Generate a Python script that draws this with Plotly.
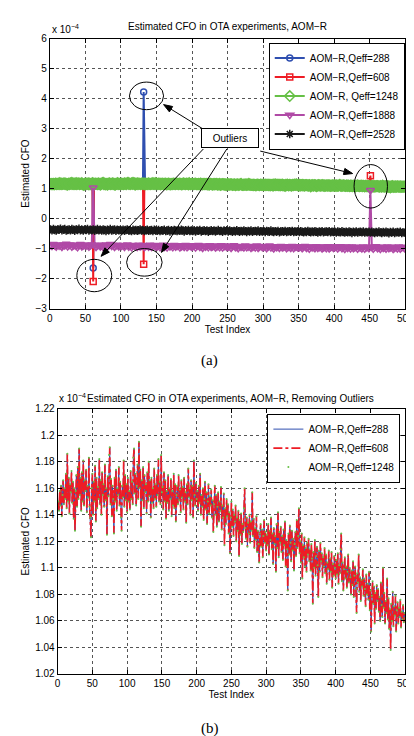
import math
import plotly.graph_objects as go

# test index axis
test_index = list(range(1, 501))
odd_index = list(range(1, 500, 2))

# estimated CFO (x 1e-4), Qeff = 288 / 608 / 1248 overlap after removing outliers
cfo_clean = [
    1.150, 1.143, 1.158, 1.147, 1.162, 1.139, 1.155, 1.166, 1.148, 1.160, 1.152, 1.171, 1.145, 1.186, 1.150, 1.168, 1.141, 1.163, 1.157, 1.173,
    1.149, 1.165, 1.137, 1.160, 1.128, 1.158, 1.170, 1.146, 1.176, 1.152, 1.190, 1.155, 1.168, 1.143, 1.172, 1.150, 1.181, 1.147, 1.166, 1.158,
    1.174, 1.142, 1.162, 1.153, 1.183, 1.146, 1.138, 1.123, 1.160, 1.171, 1.140, 1.165, 1.150, 1.177, 1.135, 1.168, 1.145, 1.161, 1.152, 1.182,
    1.148, 1.166, 1.140, 1.172, 1.155, 1.163, 1.146, 1.178, 1.151, 1.160, 1.125, 1.169, 1.154, 1.185, 1.191, 1.148, 1.167, 1.139, 1.162, 1.152,
    1.126, 1.168, 1.150, 1.174, 1.143, 1.160, 1.155, 1.176, 1.147, 1.165, 1.138, 1.128, 1.162, 1.153, 1.181, 1.146, 1.170, 1.151, 1.163, 1.142,
    1.168, 1.150, 1.158, 1.144, 1.173, 1.152, 1.165, 1.148, 1.183, 1.190, 1.156, 1.171, 1.147, 1.162, 1.178, 1.152, 1.195, 1.160, 1.174, 1.131,
    1.166, 1.151, 1.176, 1.145, 1.170, 1.157, 1.163, 1.141, 1.172, 1.150, 1.180, 1.154, 1.166, 1.138, 1.168, 1.149, 1.160, 1.145, 1.175, 1.152,
    1.163, 1.146, 1.170, 1.155, 1.182, 1.150, 1.165, 1.148, 1.185, 1.157, 1.161, 1.144, 1.172, 1.150, 1.166, 1.137, 1.158, 1.149, 1.170, 1.143,
    1.160, 1.152, 1.167, 1.139, 1.158, 1.147, 1.171, 1.145, 1.163, 1.135, 1.155, 1.162, 1.148, 1.170, 1.151, 1.159, 1.142, 1.166, 1.153, 1.161,
    1.144, 1.168, 1.150, 1.157, 1.134, 1.163, 1.148, 1.175, 1.153, 1.160, 1.140, 1.166, 1.151, 1.162, 1.138, 1.181, 1.155, 1.147, 1.164, 1.152,
    1.158, 1.143, 1.162, 1.149, 1.171, 1.140, 1.155, 1.146, 1.160, 1.136, 1.152, 1.165, 1.144, 1.157, 1.133, 1.150, 1.163, 1.141, 1.154, 1.147,
    1.159, 1.138, 1.151, 1.127, 1.148, 1.162, 1.140, 1.155, 1.131, 1.146, 1.157, 1.135, 1.150, 1.143, 1.161, 1.129, 1.147, 1.138, 1.156, 1.117,
    1.145, 1.133, 1.152, 1.139, 1.148, 1.126, 1.142, 1.111, 1.138, 1.150, 1.131, 1.144, 1.124, 1.140, 1.135, 1.147, 1.120, 1.138, 1.128, 1.143,
    1.109, 1.136, 1.125, 1.141, 1.118, 1.133, 1.127, 1.145, 1.160, 1.130, 1.122, 1.138, 1.116, 1.134, 1.126, 1.140, 1.119, 1.135, 1.128, 1.157,
    1.124, 1.137, 1.115, 1.130, 1.121, 1.139, 1.112, 1.128, 1.118, 1.104, 1.126, 1.133, 1.116, 1.129, 1.108, 1.124, 1.136, 1.119, 1.127, 1.113,
    1.125, 1.117, 1.133, 1.110, 1.128, 1.121, 1.138, 1.114, 1.126, 1.103, 1.130, 1.118, 1.124, 1.097, 1.133, 1.115, 1.142, 1.108, 1.127, 1.119,
    1.131, 1.112, 1.124, 1.106, 1.129, 1.117, 1.135, 1.101, 1.121, 1.114, 1.083, 1.126, 1.110, 1.132, 1.119, 1.105, 1.128, 1.113, 1.122, 1.098,
    1.118, 1.127, 1.109, 1.136, 1.115, 1.124, 1.145, 1.111, 1.120, 1.104, 1.126, 1.092, 1.117, 1.108, 1.123, 1.101, 1.115, 1.097, 1.119, 1.110,
    1.122, 1.105, 1.114, 1.098, 1.118, 1.107, 1.073, 1.112, 1.100, 1.121, 1.094, 1.109, 1.116, 1.102, 1.078, 1.113, 1.097, 1.119, 1.105, 1.111,
    1.093, 1.108, 1.101, 1.115, 1.096, 1.110, 1.088, 1.104, 1.099, 1.113, 1.091, 1.107, 1.097, 1.112, 1.085, 1.103, 1.094, 1.109, 1.100, 1.092,
    1.106, 1.095, 1.111, 1.088, 1.102, 1.096, 1.114, 1.126, 1.090, 1.104, 1.083, 1.099, 1.108, 1.092, 1.101, 1.085, 1.097, 1.110, 1.089, 1.100,
    1.093, 1.080, 1.098, 1.087, 1.105, 1.078, 1.094, 1.101, 1.084, 1.066, 1.096, 1.089, 1.110, 1.082, 1.093, 1.075, 1.091, 1.086, 1.099, 1.079,
    1.092, 1.084, 1.071, 1.095, 1.080, 1.088, 1.076, 1.097, 1.068, 1.083, 1.052, 1.079, 1.090, 1.073, 1.086, 1.058, 1.081, 1.069, 1.087, 1.075,
    1.084, 1.067, 1.078, 1.060, 1.089, 1.072, 1.063, 1.100, 1.070, 1.081, 1.058, 1.075, 1.066, 1.092, 1.061, 1.077, 1.054, 1.069, 1.038, 1.073,
    1.060, 1.082, 1.056, 1.071, 1.064, 1.079, 1.052, 1.068, 1.074, 1.058, 1.070, 1.063, 1.076, 1.055, 1.067, 1.061, 1.072, 1.059, 1.066, 1.062,
]

# Qeff = 2528 (black band), every second test
cfo_2528 = [
    -0.36, -0.39, -0.35, -0.38, -0.40, -0.36, -0.37, -0.34, -0.39, -0.37, -0.35, -0.40, -0.38, -0.36, -0.39, -0.35, -0.37, -0.41, -0.36, -0.38, -0.34, -0.39, -0.37, -0.40, -0.36,
    -0.38, -0.35, -0.40, -0.37, -0.39, -0.36, -0.41, -0.38, -0.35, -0.39, -0.37, -0.40, -0.36, -0.38, -0.42, -0.37, -0.39, -0.35, -0.40, -0.38, -0.36, -0.41, -0.37, -0.39, -0.38,
    -0.40, -0.37, -0.41, -0.38, -0.36, -0.40, -0.39, -0.42, -0.37, -0.40, -0.38, -0.41, -0.39, -0.36, -0.40, -0.38, -0.42, -0.39, -0.37, -0.41, -0.39, -0.38, -0.42, -0.37, -0.40,
    -0.41, -0.38, -0.42, -0.39, -0.40, -0.37, -0.42, -0.40, -0.38, -0.43, -0.39, -0.41, -0.38, -0.40, -0.42, -0.39, -0.41, -0.37, -0.40, -0.43, -0.39, -0.41, -0.38, -0.42, -0.40,
    -0.42, -0.39, -0.43, -0.40, -0.41, -0.38, -0.43, -0.41, -0.39, -0.42, -0.40, -0.44, -0.41, -0.39, -0.42, -0.40, -0.43, -0.41, -0.38, -0.42, -0.41, -0.44, -0.40, -0.42, -0.39,
    -0.43, -0.40, -0.42, -0.44, -0.41, -0.43, -0.39, -0.42, -0.44, -0.41, -0.43, -0.40, -0.42, -0.45, -0.41, -0.43, -0.40, -0.44, -0.42, -0.41, -0.43, -0.40, -0.44, -0.42, -0.43,
    -0.42, -0.45, -0.41, -0.43, -0.44, -0.40, -0.43, -0.45, -0.42, -0.44, -0.41, -0.46, -0.43, -0.42, -0.44, -0.41, -0.45, -0.43, -0.42, -0.44, -0.41, -0.45, -0.43, -0.44, -0.42,
    -0.45, -0.42, -0.44, -0.46, -0.43, -0.45, -0.41, -0.44, -0.46, -0.43, -0.45, -0.42, -0.44, -0.47, -0.43, -0.45, -0.42, -0.46, -0.44, -0.43, -0.45, -0.42, -0.46, -0.44, -0.45,
    -0.44, -0.47, -0.43, -0.45, -0.46, -0.42, -0.45, -0.47, -0.44, -0.46, -0.43, -0.45, -0.48, -0.44, -0.46, -0.43, -0.47, -0.45, -0.44, -0.46, -0.43, -0.47, -0.45, -0.46, -0.44,
    -0.47, -0.44, -0.46, -0.48, -0.45, -0.47, -0.43, -0.46, -0.48, -0.45, -0.47, -0.44, -0.46, -0.49, -0.45, -0.47, -0.44, -0.48, -0.46, -0.45, -0.47, -0.44, -0.48, -0.46, -0.47,
]

# Qeff = 1888 (magenta band), every second test
cfo_1888 = [
    -0.88, -0.92, -0.86, -0.90, -0.94, -0.87, -0.91, -0.89, -0.95, -0.88, -0.90, -0.85, -0.93, -0.89, -0.87, -0.94, -0.90, -0.88, -0.92, -0.96, -0.89, -0.86, -0.93, -0.90, -0.88,
    -0.91, -0.88, -0.94, -0.90, -0.87, -0.89, -0.89, -0.95, -0.90, -0.88, -0.93, -0.89, -0.96, -0.91, -0.87, -0.94, -0.90, -0.86, -0.92, -0.89, -0.95, -0.91, -0.88, -0.93, -0.90,
    -0.92, -0.89, -0.95, -0.90, -0.87, -0.94, -0.91, -0.96, -0.89, -0.92, -0.90, -0.95, -0.88, -0.93, -0.91, -0.89, -0.96, -0.92, -0.90, -0.94, -0.88, -0.95, -0.91, -0.89, -0.93,
    -0.93, -0.90, -0.96, -0.91, -0.88, -0.95, -0.92, -0.97, -0.90, -0.93, -0.91, -0.96, -0.89, -0.94, -0.92, -0.90, -0.97, -0.93, -0.91, -0.95, -0.89, -0.96, -0.92, -0.90, -0.94,
    -0.93, -0.91, -0.97, -0.92, -0.89, -0.95, -0.93, -0.98, -0.91, -0.94, -0.92, -0.96, -0.90, -0.95, -0.93, -0.91, -0.97, -0.94, -0.92, -0.96, -0.90, -0.97, -0.93, -0.91, -0.95,
    -0.94, -0.92, -0.98, -0.93, -0.90, -0.96, -0.94, -0.99, -0.92, -0.95, -0.93, -0.97, -0.91, -0.96, -0.94, -0.92, -0.98, -0.95, -0.93, -0.97, -0.91, -0.98, -0.94, -0.92, -0.96,
    -0.95, -0.93, -0.99, -0.94, -0.91, -0.97, -0.95, -1.00, -0.93, -0.96, -0.94, -0.98, -0.92, -0.97, -0.95, -0.93, -0.99, -0.96, -0.94, -0.98, -0.92, -0.99, -0.95, -0.93, -0.97,
    -0.96, -0.93, -0.99, -0.95, -0.92, -0.98, -0.95, -1.01, -0.94, -0.97, -0.95, -0.99, -0.93, -0.98, -0.96, -0.94, -1.00, -0.97, -0.95, -0.99, -0.93, -1.00, -0.96, -0.94, -0.98,
    -0.96, -0.94, -1.00, -0.95, -0.93, -0.99, -0.96, -1.02, -0.94, -0.98, -0.95, -1.00, -0.94, -0.99, -0.97, -0.95, -1.01, -0.97, -0.96, -1.00, -0.94, -1.01, -0.97, -0.95, -0.99,
    -0.97, -0.95, -1.01, -0.96, -0.93, -0.99, -0.97, -1.02, -0.95, -0.98, -0.96, -1.01, -0.94, -0.99, -0.97, -0.95, -1.02, -0.98, -0.96, -1.00, -0.94, -1.01, -0.97, -0.95, -0.99,
]

# outliers seen in panel (a)
outlier_idx_288 = [61, 132]
outlier_val_288 = [-1.65, 4.22]
outlier_idx_608 = [61, 132, 451]
outlier_val_608 = [-2.10, -1.52, 1.43]
outlier_idx_1888 = [61, 451]
outlier_val_1888 = [1.03, 0.94]


def with_outliers(index, values, idx, vals):
    out = list(values)
    for i, v in zip(idx, vals):
        out[index.index(i)] = v
    return out


cfo_288 = with_outliers(test_index, cfo_clean, outlier_idx_288, outlier_val_288)
cfo_608 = with_outliers(test_index, cfo_clean, outlier_idx_608, outlier_val_608)
cfo_1888_raw = with_outliers(odd_index, cfo_1888, outlier_idx_1888, outlier_val_1888)

BLUE = "#2f4fb0"
RED = "#ee1c25"
GREEN = "#66c046"
MAGENTA = "#b04aa6"
BLACK = "#1a1a1a"
FONT = "Liberation Sans"

W, H = 414, 736
# panel (a) plot area in pixels
AX0, AX1, AY0, AY1 = 40, 406, 26, 300
XMIN, XMAX, YMIN, YMAX = 0, 500, -3, 6

fig = go.Figure()

# panel (a)
top = [
    ("AOM\u2212R,Qeff=288", test_index, cfo_288, BLUE, "circle-open", 6),
    ("AOM\u2212R,Qeff=608", test_index, cfo_608, RED, "square-open", 6),
    ("AOM\u2212R, Qeff=1248", test_index, cfo_clean, GREEN, "diamond-open", 8),
    ("AOM\u2212R,Qeff=1888", odd_index, cfo_1888_raw, MAGENTA, "triangle-down-open", 7),
    ("AOM\u2212R,Qeff=2528", odd_index, cfo_2528, BLACK, "asterisk-open", 7),
]
for name, xs, ys, col, sym, sz in top:
    fig.add_trace(go.Scatter(
        x=xs, y=ys, name=name, mode="lines+markers",
        line=dict(color=col, width=2),
        marker=dict(symbol=sym, size=sz, color=col, line=dict(width=1.5, color=col)),
        xaxis="x", yaxis="y", legend="legend",
    ))

# panel (b)
fig.add_trace(go.Scatter(
    x=test_index, y=cfo_clean, name="AOM\u2212R,Qeff=288", mode="lines",
    line=dict(color=BLUE, width=1), xaxis="x2", yaxis="y2", legend="legend2"))
fig.add_trace(go.Scatter(
    x=test_index, y=cfo_clean, name="AOM\u2212R,Qeff=608", mode="lines",
    line=dict(color=RED, width=1.6, dash="dashdot"), xaxis="x2", yaxis="y2", legend="legend2"))
fig.add_trace(go.Scatter(
    x=test_index, y=cfo_clean, name="AOM\u2212R,Qeff=1248", mode="markers",
    marker=dict(color=GREEN, size=2), xaxis="x2", yaxis="y2", legend="legend2"))

axis_common = dict(
    ticks="inside", ticklen=4, tickcolor="black", showline=True, linecolor="black",
    linewidth=1, mirror="ticks", showgrid=True, gridcolor="#555", griddash="dot",
    gridwidth=1, zeroline=False, ticklabeloverflow="allow",
    tickfont=dict(size=10, color="black", family=FONT),
)
xtitle = dict(text="Test Index", font=dict(size=10, family=FONT, color="black"), standoff=1)
ytitle = dict(text="Estimated CFO", font=dict(size=10, family=FONT, color="black"), standoff=3)

legend_common = dict(
    xanchor="right", yanchor="top", bgcolor="white", bordercolor="black",
    borderwidth=1, font=dict(size=10, family=FONT, color="black"), itemwidth=30,
    tracegroupgap=0,
)

fig.update_layout(
    width=W, height=H, margin=dict(l=0, r=0, t=0, b=0),
    paper_bgcolor="white", plot_bgcolor="white",
    font=dict(family=FONT, size=10, color="black"),
    xaxis=dict(domain=[AX0 / W, AX1 / W], range=[XMIN, XMAX], dtick=50, anchor="y",
               title=xtitle, **axis_common),
    yaxis=dict(domain=[1 - AY1 / H, 1 - AY0 / H], range=[YMIN, YMAX], dtick=1, anchor="x",
               title=ytitle, **axis_common),
    xaxis2=dict(domain=[48 / W, 406 / W], range=[0, 500], dtick=50, anchor="y2",
                title=xtitle, **axis_common),
    yaxis2=dict(domain=[1 - 671 / H, 1 - 401.7 / H], range=[1.02, 1.22], dtick=0.02, anchor="x2",
                title=ytitle, **axis_common),
    legend=dict(x=405.5 / W, y=1 - 30 / H, **legend_common),
    legend2=dict(x=401 / W, y=1 - 406.7 / H, **legend_common),
)

# callout ellipses around the outliers
ellipses = [(112, 160, 3.63, 4.55), (38, 87, -2.44, -1.36), (108, 158, -1.92, -1.0), (428, 475, 0.35, 1.80)]
for x0, x1, y0, y1 in ellipses:
    fig.add_shape(type="circle", xref="x", yref="y", x0=x0, x1=x1, y0=y0, y1=y1,
                  line=dict(color="black", width=1))

# arrows from the "Outliers" box: (head x, head y, tail x, tail y)
sx = (AX1 - AX0) / (XMAX - XMIN)
sy = (AY1 - AY0) / (YMAX - YMIN)
arrows = [(160, 3.80, 214, 3.01), (72, -1.26, 216, 2.32), (157, -1.13, 249, 2.32), (426, 1.50, 296, 2.25)]
for hx, hy, tx, ty in arrows:
    dx, dy = (hx - tx) * sx, (hy - ty) * sy
    n = math.hypot(dx, dy)
    ux, uy = dx / n, dy / n
    L, Wh = 9, 3.2
    bx, by = hx - ux * L / sx, hy - uy * L / sy
    p1 = (bx - uy * Wh / sx, by + ux * Wh / sy)
    p2 = (bx + uy * Wh / sx, by - ux * Wh / sy)
    fig.add_shape(type="line", xref="x", yref="y", x0=tx, y0=ty, x1=bx, y1=by,
                  line=dict(color="black", width=1))
    fig.add_shape(type="path", xref="x", yref="y",
                  path=f"M {hx},{hy} L {p1[0]},{p1[1]} L {p2[0]},{p2[1]} Z",
                  fillcolor="black", line=dict(color="black", width=1))

fig.add_annotation(x=254, y=2.68, xref="x", yref="y", text="Outliers", showarrow=False,
                   bgcolor="white", bordercolor="black", borderwidth=1, width=54, height=16,
                   borderpad=1, font=dict(size=10))

# titles, exponents, captions
texts = [
    (223, 14, "Estimated CFO in OTA experiments, AOM\u2212R", 10, FONT),
    (226, 391, "Estimated CFO in OTA experiments, AOM\u2212R, Removing Outliers", 10, FONT),
    (204, 353, "(a)", 15, "Liberation Serif"),
    (205, 726, "(b)", 15, "Liberation Serif"),
]
for px, py, t, fs, fam in texts:
    fig.add_annotation(x=px / W, y=1 - py / H, xref="paper", yref="paper", text=t,
                       showarrow=False, xanchor="center", yanchor="middle",
                       font=dict(size=fs, family=fam, color="black"))

for px, py in [(40, 24), (47, 399)]:
    fig.add_annotation(x=px / W, y=1 - py / H, xref="paper", yref="paper",
                       text="x 10<sup>\u22124</sup>", showarrow=False,
                       xanchor="left", yanchor="bottom",
                       font=dict(size=10, family=FONT, color="black"))

fig.write_html("out.html")
